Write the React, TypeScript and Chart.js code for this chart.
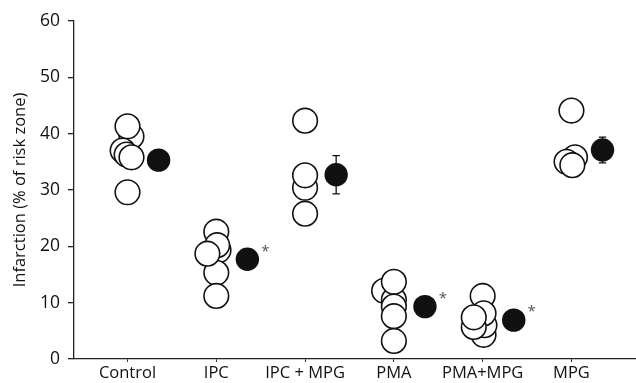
import { useEffect, useRef } from "react";
import { Chart, registerables } from "chart.js";

Chart.register(...registerables);

const categories = ["Control", "IPC", "IPC + MPG", "PMA", "PMA+MPG", "MPG"];
const yTicks = [0, 10, 20, 30, 40, 50, 60];

// individual animals (open circles), in drawing order; jitter = small horizontal offset in category units
const controlValues = [39.5, 41.3, 37.0, 36.3, 35.8, 29.6];
const controlJitter = [0.045, 0, -0.055, -0.01, 0.045, 0];
const ipcValues = [22.6, 19.3, 20.2, 15.3, 11.2, 18.7];
const ipcJitter = [0, 0.025, 0.01, 0, 0, -0.1];
const ipcMpgValues = [42.3, 25.8, 30.4, 32.6];
const ipcMpgJitter = [0, 0, 0, 0];
const pmaValues = [12.1, 10.5, 13.7, 9.3, 7.6, 3.2];
const pmaJitter = [-0.11, 0, 0, 0, 0, 0];
const pmaMpgValues = [11.2, 4.3, 6.0, 8.1, 5.7, 7.4];
const pmaMpgJitter = [0, 0.01, 0.02, 0.01, -0.1, -0.1];
const mpgValues = [44.1, 35.8, 35.0, 34.4];
const mpgJitter = [0, 0.04, -0.055, 0.01];

const groupValues = [controlValues, ipcValues, ipcMpgValues, pmaValues, pmaMpgValues, mpgValues];
const groupJitter = [controlJitter, ipcJitter, ipcMpgJitter, pmaJitter, pmaMpgJitter, mpgJitter];

// group means (filled circles) and SEM
const meanValues = [35.3, 17.7, 32.7, 9.3, 6.9, 37.1];
const semValues = [1.6, 1.6, 3.4, 1.5, 1.0, 2.3];
const significant = [false, true, false, true, true, false];
const meanOffset = 0.35;

const FONT = "'Open Sans', 'Noto Sans', sans-serif";

export default function App() {
  const ref = useRef<HTMLCanvasElement | null>(null);

  useEffect(() => {
    if (!ref.current) return;

    const openPoints: { x: number; y: number }[] = [];
    groupValues.forEach((vals, i) => {
      vals.forEach((v, j) => openPoints.push({ x: i + groupJitter[i][j], y: v }));
    });
    const meanPoints = meanValues.map((v, i) => ({ x: i + meanOffset, y: v }));

    const errorPlugin = {
      id: "errorbars",
      afterDatasetsDraw(chart: any) {
        const { ctx, scales } = chart;
        const xs = scales.x;
        const ys = scales.y;
        ctx.save();
        meanValues.forEach((m, i) => {
          const px = xs.getPixelForValue(i + meanOffset);
          const top = ys.getPixelForValue(m + semValues[i]);
          const bot = ys.getPixelForValue(m - semValues[i]);
          ctx.strokeStyle = "#111";
          ctx.lineWidth = 1.3;
          ctx.beginPath();
          ctx.moveTo(px, top);
          ctx.lineTo(px, bot);
          ctx.moveTo(px - 3.7, top);
          ctx.lineTo(px + 3.7, top);
          ctx.moveTo(px - 3.7, bot);
          ctx.lineTo(px + 3.7, bot);
          ctx.stroke();
          if (significant[i]) {
            const py = ys.getPixelForValue(m);
            ctx.fillStyle = "#555";
            ctx.font = `15px ${FONT}`;
            ctx.textAlign = "center";
            ctx.textBaseline = "middle";
            ctx.fillText("*", px + 18, py - 8);
          }
        });
        ctx.restore();
      },
    };

    const chart = new Chart(ref.current, {
      type: "scatter",
      data: {
        datasets: [
          {
            data: openPoints,
            pointRadius: 12.3,
            pointHoverRadius: 12.3,
            pointBackgroundColor: "#ffffff",
            pointBorderColor: "#111",
            pointBorderWidth: 1.6,
            showLine: false,
          },
          {
            data: meanPoints,
            pointRadius: 11.7,
            pointHoverRadius: 11.7,
            pointBackgroundColor: "#111",
            pointBorderColor: "#111",
            pointBorderWidth: 0,
            showLine: false,
          },
        ],
      },
      options: {
        responsive: false,
        animation: false,
        events: [],
        layout: { autoPadding: false, padding: { top: 21, right: 0, left: 0, bottom: 0 } },
        plugins: { legend: { display: false }, tooltip: { enabled: false } },
        scales: {
          x: {
            type: "linear",
            min: -0.6025,
            max: 5.727,
            afterBuildTicks: (scale: any) => {
              scale.ticks = categories.map((_, i) => ({ value: i }));
            },
            afterFit: (scale: any) => {
              scale.height = 24;
            },
            ticks: {
              autoSkip: false,
              maxRotation: 0,
              padding: 1,
              color: "#111",
              font: { family: FONT, size: 16.5 },
              callback: (v: any) => categories[Number(v)] ?? "",
            },
            grid: { display: true, drawOnChartArea: false, drawTicks: true, tickLength: 3, color: "#333" },
            border: { display: true, color: "#222", width: 1.3 },
          },
          y: {
            min: 0,
            max: 60,
            afterBuildTicks: (scale: any) => {
              scale.ticks = yTicks.map((v) => ({ value: v }));
            },
            afterFit: (scale: any) => {
              scale.width = 74;
            },
            ticks: {
              padding: 8,
              color: "#111",
              font: { family: FONT, size: 17.5 },
            },
            grid: { display: true, drawOnChartArea: false, drawTicks: true, tickLength: 6, color: "#222", lineWidth: 1.3 },
            border: { display: true, color: "#222", width: 1.3 },
            title: {
              display: true,
              text: "Infarction (% of risk zone)",
              color: "#111",
              font: { family: FONT, size: 16.5 },
              padding: { top: 10, bottom: 0 },
            },
          },
        },
      },
      plugins: [errorPlugin],
    });

    return () => chart.destroy();
  }, []);

  return (
    <div style={{ position: "fixed", left: 0, top: 0, width: 636, height: 383, background: "#fff" }}>
      <canvas ref={ref} width={636} height={383} style={{ display: "block" }} />
    </div>
  );
}
